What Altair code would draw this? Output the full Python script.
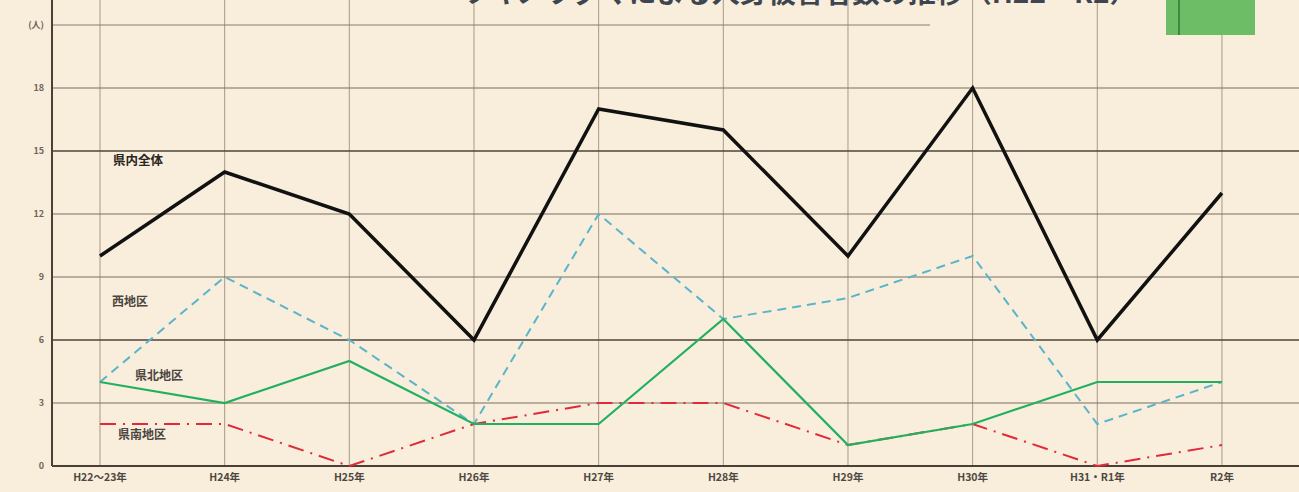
import altair as alt
import pandas as pd

categories = ["H22～23年", "H24年", "H25年", "H26年", "H27年", "H28年", "H29年", "H30年", "H31・R1年", "R2年"]
total = [10, 14, 12, 6, 17, 16, 10, 18, 6, 13]
west = [4, 9, 6, 2, 12, 7, 8, 10, 2, 4]
north = [4, 3, 5, 2, 2, 7, 1, 2, 4, 4]
south = [2, 2, 0, 2, 3, 3, 1, 2, 0, 1]
series_names = ["県内全体", "西地区", "県北地区", "県南地区"]
y_ticks = [0, 3, 6, 9, 12, 15, 18, 21]
y_tick_labels = ["0", "3", "6", "9", "12", "15", "18", "(人)"]
title_text = "ツキノワグマによる人身被害者数の推移（H22～R2）"

W, H = 1247, 466
idx = list(range(len(categories)))
xs = alt.Scale(domain=[-0.385, 9.618], nice=False, zero=False)
ys = alt.Scale(domain=[0, 22.19], nice=False, zero=False)

def df(vals):
    return pd.DataFrame({"i": idx, "v": vals, "cat": categories})

base_x = alt.X("i:Q", scale=xs, axis=None)
base_y = alt.Y("v:Q", scale=ys, axis=None)

xlabels = alt.Chart(pd.DataFrame({"i": idx, "t": categories})).mark_text(
    align="center", baseline="middle", fontSize=10.5, color="#4e4842", font="Noto Sans CJK JP", fontWeight="bold"
).encode(x=base_x, y=alt.value(H + 12), text="t:N")

ylabels = alt.Chart(pd.DataFrame({"v": y_ticks, "t": y_tick_labels})).mark_text(
    align="right", baseline="middle", fontSize=9, color="#6e665c", font="Noto Sans CJK JP", fontWeight="bold"
).encode(y=base_y, x=alt.value(-8), text="t:N")

vgrid = alt.Chart(pd.DataFrame({"i": idx})).mark_rule(color="#a89a84", strokeWidth=1).encode(
    x=base_x, y=alt.value(0), y2=alt.value(H)
)

hdark = alt.Chart(pd.DataFrame({"v": [6, 15]})).mark_rule(color="#4e453b", strokeWidth=1.6).encode(
    y=base_y, x=alt.value(0), x2=alt.value(W)
)
hlight = alt.Chart(pd.DataFrame({"v": [3, 9, 12, 18]})).mark_rule(color="#7a6e60", strokeWidth=1.1).encode(
    y=base_y, x=alt.value(0), x2=alt.value(W)
)
htop = alt.Chart(pd.DataFrame({"v": [21]})).mark_rule(color="#8a7e70", strokeWidth=1.2).encode(
    y=base_y, x=alt.value(0), x2=alt.value(878)
)
xaxis_line = alt.Chart(pd.DataFrame({"v": [0]})).mark_rule(color="#4a4035", strokeWidth=2).encode(
    y=base_y, x=alt.value(0), x2=alt.value(W)
)
yaxis_line = alt.Chart(pd.DataFrame({"v": [0]})).mark_rule(color="#4a4035", strokeWidth=2).encode(
    x=alt.value(0), y=alt.value(0), y2=alt.value(H)
)

l_total = alt.Chart(df(total)).mark_line(color="#111111", strokeWidth=3.5).encode(x=base_x, y=base_y)
l_west = alt.Chart(df(west)).mark_line(color="#5ab4cc", strokeWidth=2, strokeDash=[9, 6]).encode(x=base_x, y=base_y)
l_north = alt.Chart(df(north)).mark_line(color="#22b060", strokeWidth=2.2).encode(x=base_x, y=base_y)
l_south = alt.Chart(df(south)).mark_line(color="#e02a3a", strokeWidth=2, strokeDash=[16, 7, 2, 7]).encode(x=base_x, y=base_y)

lab_pos = [(61, 161, 12.5, "#2a2520"), (60, 302, 12, "#4a4540"), (83, 376, 12, "#4a4540"), (66, 435, 12, "#4a4540")]
labels = []
for name, (px, py, fs, col) in zip(series_names, lab_pos):
    labels.append(
        alt.Chart(pd.DataFrame({"t": [name]})).mark_text(
            align="left", baseline="middle", fontSize=fs, color=col, font="Noto Sans CJK JP", fontWeight="bold"
        ).encode(x=alt.value(px), y=alt.value(py), text="t:N")
    )

title = alt.Chart(pd.DataFrame({"t": [title_text]})).mark_text(
    align="center", baseline="bottom", fontSize=28, color="#3c4550", font="Noto Sans CJK JP", fontWeight="bold"
).encode(x=alt.value(748), y=alt.value(9), text="t:N")

deco = alt.Chart(pd.DataFrame({"t": [1]})).mark_rect(color="#6cbd66").encode(
    x=alt.value(1114), x2=alt.value(1203), y=alt.value(0), y2=alt.value(35)
)
deco_line = alt.Chart(pd.DataFrame({"t": [1]})).mark_rule(color="#3f8a40", strokeWidth=2).encode(
    x=alt.value(1127), y=alt.value(0), y2=alt.value(35)
)

chart = alt.layer(
    vgrid, hlight, hdark, htop, xaxis_line, yaxis_line, deco, deco_line,
    l_west, l_south, l_north, l_total, *labels, xlabels, ylabels, title
).properties(
    width=W, height=H, background="#f8eedb",
    autosize=alt.AutoSizeParams(type="none"),
    padding={"left": 52, "top": 0, "right": 0, "bottom": 26},
).configure_view(stroke=None)

chart.save("out.html", embed_options={"renderer": "svg", "actions": False})
